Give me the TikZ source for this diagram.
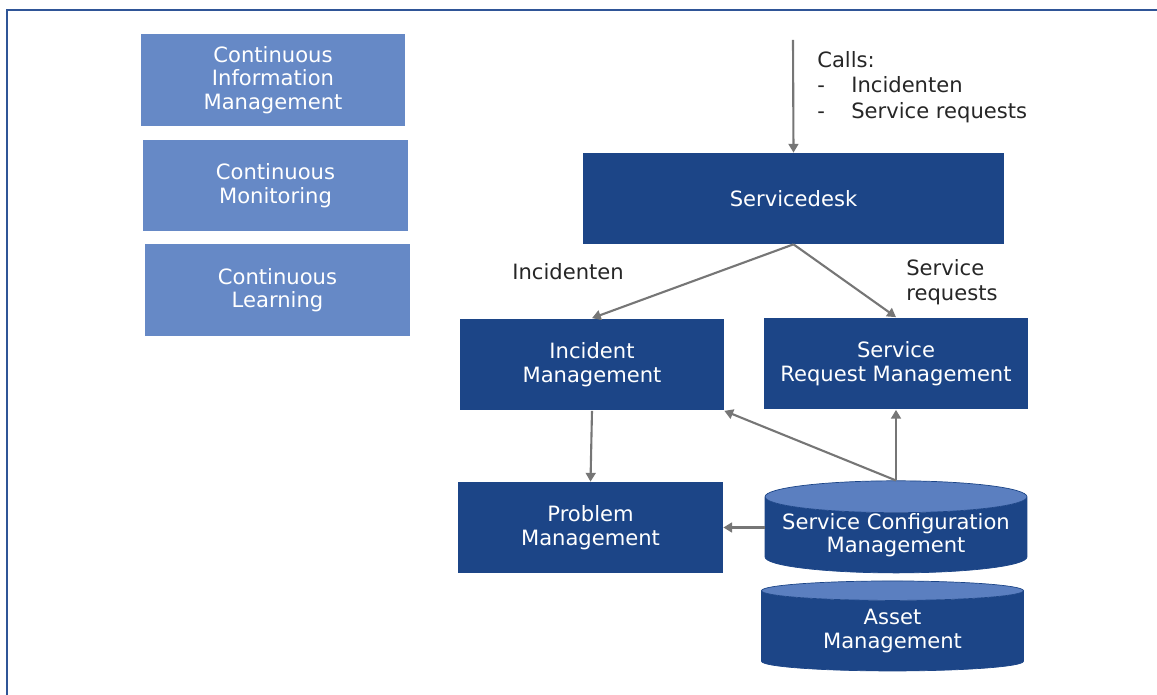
\documentclass[tikz,border=0pt]{standalone}
\usepackage{fontspec}
\setmainfont{DejaVu Sans}
\usetikzlibrary{shapes.geometric,arrows.meta}

\definecolor{procblue}{HTML}{1C4587}
\definecolor{contblue}{HTML}{6689C6}
\definecolor{dbtop}{HTML}{5B7FC0}
\definecolor{frameblue}{HTML}{2F5597}
\definecolor{flowgray}{HTML}{767676}
\definecolor{labelgray}{HTML}{262626}

\tikzset{
  boxfont/.style={font=\fontsize{12}{13.4}\selectfont},
  process/.style={rectangle, fill=procblue, text=white, align=center, inner sep=0pt, boxfont},
  continuous/.style={rectangle, fill=contblue, text=white, align=center, inner sep=0pt,
    minimum width=5.3cm, minimum height=1.84cm, boxfont},
  database/.style={cylinder, shape border rotate=90, aspect=0.14, draw=procblue,
    cylinder uses custom fill, cylinder body fill=procblue, cylinder end fill=dbtop,
    text=white, align=center, inner sep=0pt, minimum width=5.24cm, minimum height=1.8cm, boxfont},
  flow/.style={draw=flowgray, line width=1.2pt, -{Triangle[length=5pt, width=5.6pt]}},
  remark/.style={text=labelgray, align=left, inner sep=0pt, font=\fontsize{12}{14.5}\selectfont}
}

\begin{document}
\begin{tikzpicture}[x=0.02cm, y=-0.02cm]
    \useasboundingbox (0,0) rectangle (1157,695);

    % frame, open to the right and at the bottom
    \draw[frameblue, line width=1.2pt] (7,760) -- (7,10) -- (1220,10);

    % continuous practices
    \node[continuous] (info) at (273,80) {Continuous\\Information\\Management};
    \node[continuous] (monitor) at (275.5,185.5) {Continuous\\Monitoring};
    \node[continuous] (learn) at (277.5,290) {Continuous\\Learning};

    % processes
    \node[process, minimum width=8.42cm, minimum height=1.82cm] (desk) at (793.5,198.5) {Servicedesk};
    \node[process, minimum width=5.28cm, minimum height=1.84cm] (incident) at (592,364.5) {Incident\\Management};
    \node[process, minimum width=5.28cm, minimum height=1.84cm] (request) at (896,363.5) {Service\\Request Management};
    \node[process, minimum width=5.3cm, minimum height=1.82cm] (problem) at (590.5,527.5) {Problem\\Management};

    % databases
    \node[database] (config) at (896,535) {Service Configuration\\Management};
    \node[database] (asset) at (892.5,631) {Asset\\Management};

    % labels
    \node[remark, anchor=north west] (calls) at (817,51)
        {Calls:\\\makebox[0.68cm][l]{-}Incidenten\\\makebox[0.68cm][l]{-}Service requests};
    \node[remark, anchor=north west] (inclabel) at (512,263) {Incidenten};
    \node[remark, anchor=north west] (reqlabel) at (906,259) {Service\\requests};

    % flows
    \coordinate (callsin) at (793,40);
    \draw[flow] (callsin) -- (desk.north);
    \draw[flow] (desk.south) -- (incident.north);
    \draw[flow] (desk.south) -- (request.north);
    \draw[flow] (incident.south) -- (problem.north);
    \draw[flow] (config.north) -- (incident.south east);
    \draw[flow] (config.north) -- (request.south);
    \draw[flow] (problem.east -| config.west) -- (problem.east);
\end{tikzpicture}
\end{document}
